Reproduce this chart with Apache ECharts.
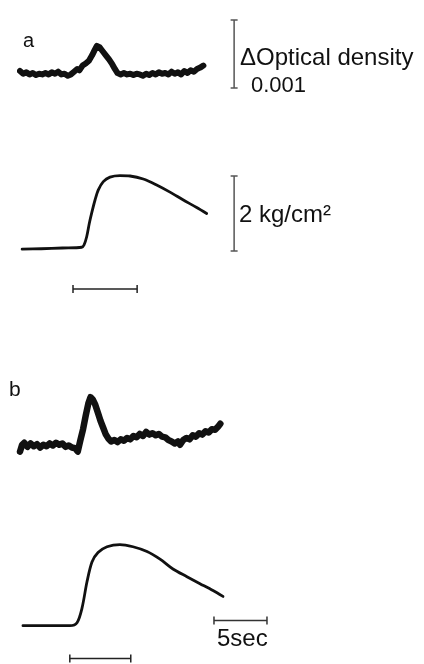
<!DOCTYPE html>
<html>
<head>
<meta charset="utf-8">
<script src="https://cdn.jsdelivr.net/npm/echarts@6/dist/echarts.min.js"></script>
<style>
  html, body { margin: 0; padding: 0; background: #fff; }
  #chart { width: 424px; height: 664px; }
</style>
</head>
<body>
<div id="chart"></div>
<script>
// time in sec, optical density change in units of 0.001, pressure in kg/cm2
const odA = [[0,0.25],[0.3,0.21],[0.6,0.23],[0.9,0.2],[1.2,0.22],[1.5,0.19],[1.8,0.21],[2.1,0.2],[2.4,0.22],[2.7,0.2],[3.0,0.23],[3.3,0.21],[3.6,0.24],[3.9,0.2],[4.2,0.21],[4.5,0.18],[4.8,0.2],[5.1,0.24],[5.4,0.28],[5.6,0.26],[5.9,0.33],[6.2,0.36],[6.5,0.4],[6.8,0.48],[7.05,0.56],[7.25,0.62],[7.5,0.6],[7.8,0.54],[8.1,0.48],[8.4,0.42],[8.7,0.35],[8.95,0.28],[9.2,0.22],[9.5,0.2],[9.8,0.22],[10.1,0.2],[10.4,0.21],[10.7,0.19],[11.0,0.21],[11.3,0.2],[11.6,0.18],[11.9,0.21],[12.2,0.19],[12.5,0.22],[12.8,0.2],[13.1,0.23],[13.4,0.21],[13.7,0.22],[14.0,0.2],[14.3,0.24],[14.6,0.21],[14.9,0.23],[15.2,0.2],[15.5,0.25],[15.8,0.22],[16.1,0.26],[16.4,0.24],[16.7,0.28],[17.0,0.3],[17.3,0.33]]

const pressA = [[0.2,0.05],[2.0,0.06],[4.0,0.08],[5.82,0.1],[6.04,0.16],[6.29,0.38],[6.54,0.74],[6.76,1.01],[7.08,1.36],[7.39,1.63],[7.86,1.85],[8.49,1.97],[9.43,2.01],[10.38,2.0],[11.63,1.92],[12.89,1.76],[14.15,1.57],[15.41,1.36],[16.67,1.16],[17.61,1.0]]

const odB = [[0,0.05],[0.2,0.15],[0.4,0.18],[0.7,0.12],[1.0,0.17],[1.3,0.13],[1.6,0.16],[1.9,0.11],[2.2,0.15],[2.5,0.13],[2.8,0.17],[3.1,0.14],[3.4,0.18],[3.7,0.15],[4.0,0.17],[4.3,0.12],[4.6,0.14],[4.9,0.11],[5.2,0.1],[5.45,0.05],[5.7,0.22],[5.95,0.38],[6.2,0.58],[6.45,0.76],[6.65,0.85],[6.85,0.82],[7.1,0.74],[7.35,0.62],[7.6,0.5],[7.85,0.4],[8.1,0.3],[8.35,0.24],[8.6,0.2],[8.9,0.22],[9.2,0.19],[9.5,0.23],[9.8,0.21],[10.1,0.25],[10.4,0.23],[10.7,0.28],[11.0,0.26],[11.3,0.31],[11.6,0.28],[11.9,0.34],[12.2,0.3],[12.5,0.32],[12.8,0.29],[13.1,0.31],[13.4,0.27],[13.7,0.26],[14.0,0.22],[14.3,0.2],[14.6,0.17],[14.9,0.2],[15.1,0.15],[15.4,0.22],[15.7,0.25],[16.0,0.23],[16.3,0.29],[16.6,0.27],[16.9,0.32],[17.2,0.3],[17.5,0.35],[17.8,0.33],[18.1,0.38],[18.4,0.37],[18.7,0.42],[18.9,0.46]]

const pressB = [[0.28,0.05],[2.5,0.05],[4.72,0.05],[5.38,0.13],[5.85,0.53],[6.32,1.25],[6.79,1.79],[7.36,2.05],[8.21,2.21],[9.43,2.27],[10.66,2.21],[11.98,2.08],[13.21,1.87],[14.43,1.6],[15.75,1.39],[16.98,1.2],[18.21,1.01],[19.15,0.85]]

// scale bars and stimulus markers
const odBar = [[20.2,0],[20.2,1]]            // 0.001 OD
const pressBar = [[20.2,0],[20.2,2]]         // 2 kg/cm2
const timeBar = [[18.3,0.19],[23.3,0.19]]    // 5 sec
const stimA = [[5.0,-1.01],[11.05,-1.01]]
const stimB = [[4.7,-0.85],[10.45,-0.85]]

const FONT = '"Liberation Sans", Arial, sans-serif'
const PX_OD = 68      // px per 0.001 OD
const PX_P = 37.5     // px per kg/cm2

// grids: [top, yMin, yMax, pxPerUnit]
const gridDefs = [
  [6.4, -0.2, 1.2, PX_OD],
  [161, -1.2, 2.4, PX_P],
  [373.4, -0.2, 1.2, PX_OD],
  [532.5, -1.0, 2.6, PX_P],
]

const grid = gridDefs.map(g => ({
  left: 20, width: 265, top: g[0], height: (g[2] - g[1]) * g[3],
}))
const xAxis = gridDefs.map((g, i) => ({
  type: 'value', gridIndex: i, min: 0, max: 25, show: false,
}))
const yAxis = gridDefs.map((g, i) => ({
  type: 'value', gridIndex: i, min: g[1], max: g[2], show: false,
}))

function trace(data, idx, width, smooth) {
  return {
    type: 'line', xAxisIndex: idx, yAxisIndex: idx, data,
    showSymbol: false, smooth, clip: false, silent: true,
    lineStyle: { color: '#111', width, cap: 'round', join: 'round' },
  }
}

function bar(data, idx, capSize, color) {
  return {
    type: 'line', xAxisIndex: idx, yAxisIndex: idx, data,
    symbol: 'rect', symbolSize: capSize, showSymbol: true, clip: false, silent: true,
    itemStyle: { color },
    lineStyle: { color, width: 1.5 },
  }
}

function label(text, x, y, size) {
  return {
    type: 'text', x, y,
    style: { text, font: size + 'px ' + FONT, fill: '#111', verticalAlign: 'middle' },
  }
}

const chart = echarts.init(document.getElementById('chart'), null, { renderer: 'canvas' })

chart.setOption({
  backgroundColor: '#fff',
  animation: false,
  grid, xAxis, yAxis,
  series: [
    trace(odA, 0, 6, false),
    trace(pressA, 1, 2.8, 0.3),
    trace(odB, 2, 6.5, false),
    trace(pressB, 3, 2.8, 0.3),
    bar(odBar, 0, [7, 1.5], '#555'),
    bar(pressBar, 1, [7, 1.5], '#555'),
    bar(stimA, 1, [1.5, 8], '#222'),
    bar(timeBar, 3, [1.5, 8], '#333'),
    bar(stimB, 3, [1.5, 8], '#222'),
  ],
  graphic: [
    label('a', 23, 41, 20),
    label('b', 9, 390, 21),
    label('ΔOptical density', 240, 58, 24),
    label('0.001', 251, 86, 22),
    label('2 kg/cm²', 239, 215, 24),
    label('5sec', 217, 639, 24),
  ],
})
</script>
</body>
</html>
